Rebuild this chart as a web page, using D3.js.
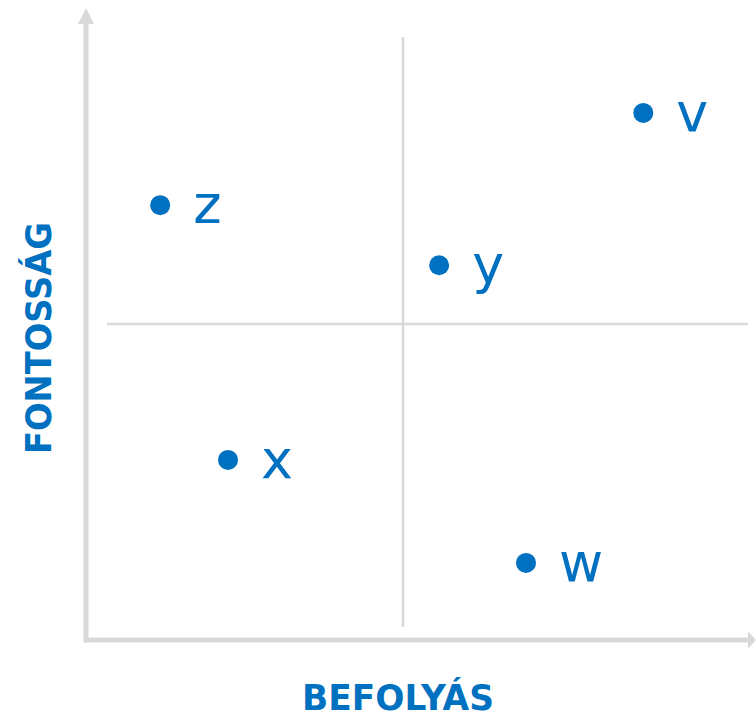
<!DOCTYPE html>
<html>
<head>
<meta charset="utf-8">
<script src="https://cdn.jsdelivr.net/npm/d3@7"></script>
<style>
  body { margin: 0; background: #fff; }
  svg { display: block; }
</style>
</head>
<body>
<div id="chart"></div>
<script>
const WIDTH = 756,
    HEIGHT = 715;

// point data (0-10 on both axes, 5 = quadrant split)
const labels = ["v", "z", "y", "x", "w"];
const befolyas = [8.79, 1.17, 5.57, 2.24, 6.94];
const fontossag = [8.34, 6.88, 5.93, 2.85, 1.22];
const xTitle = "BEFOLYÁS",
    yTitle = "FONTOSSÁG";

const blue = "#0070c0",
    axisGray = "#d9d9d9";

const points = labels.map((l, i) => ({ label: l, x: befolyas[i], y: fontossag[i] }));

const svg = d3.select("#chart")
    .append("svg")
    .attr("width", WIDTH)
    .attr("height", HEIGHT);

const escalaX = d3.scaleLinear().domain([0, 10]).range([86, 720]);
const escalaY = d3.scaleLinear().domain([0, 10]).range([640, 8]);

// quadrant lines
svg.append("line")
    .attr("x1", escalaX(5)).attr("x2", escalaX(5))
    .attr("y1", 37).attr("y2", 627)
    .attr("stroke", axisGray).attr("stroke-width", 2.5);

svg.append("line")
    .attr("x1", 107).attr("x2", 748)
    .attr("y1", escalaY(5)).attr("y2", escalaY(5))
    .attr("stroke", axisGray).attr("stroke-width", 2.5);

// axes with arrow heads
const x0 = escalaX(0), y0 = escalaY(0);

svg.append("line")
    .attr("x1", x0).attr("x2", x0)
    .attr("y1", y0 + 2.5).attr("y2", 22)
    .attr("stroke", axisGray).attr("stroke-width", 5);

svg.append("path")
    .attr("d", `M${x0 - 8},24 L${x0},8 L${x0 + 8},24 Z`)
    .attr("fill", axisGray);

svg.append("line")
    .attr("x1", x0 - 2.5).attr("x2", 750)
    .attr("y1", y0).attr("y2", y0)
    .attr("stroke", axisGray).attr("stroke-width", 5);

svg.append("path")
    .attr("d", `M748,${y0 - 8.5} L756,${y0} L748,${y0 + 8.5} Z`)
    .attr("fill", axisGray);

// points
const g = svg.append("g");

g.selectAll("circle")
    .data(points)
    .join("circle")
    .attr("cx", d => escalaX(d.x))
    .attr("cy", d => escalaY(d.y))
    .attr("r", 10)
    .attr("fill", blue);

g.selectAll("text")
    .data(points)
    .join("text")
    .attr("x", d => escalaX(d.x) + 33)
    .attr("y", d => escalaY(d.y) + 18)
    .attr("fill", blue)
    .style("font-family", "'DejaVu Sans', Verdana, sans-serif")
    .style("font-size", "54px")
    .text(d => d.label);

// axis titles
svg.append("text")
    .attr("x", 398)
    .attr("y", 710)
    .attr("text-anchor", "middle")
    .attr("fill", blue)
    .style("font-family", "'DejaVu Sans', Verdana, sans-serif")
    .style("font-weight", "bold")
    .style("font-size", "35px")
    .attr("textLength", 192)
    .attr("lengthAdjust", "spacingAndGlyphs")
    .text(xTitle);

svg.append("text")
    .attr("transform", "translate(51, 338) rotate(-90)")
    .attr("text-anchor", "middle")
    .attr("fill", blue)
    .style("font-family", "'DejaVu Sans', Verdana, sans-serif")
    .style("font-weight", "bold")
    .style("font-size", "35px")
    .attr("textLength", 232)
    .attr("lengthAdjust", "spacingAndGlyphs")
    .text(yTitle);
</script>
</body>
</html>
